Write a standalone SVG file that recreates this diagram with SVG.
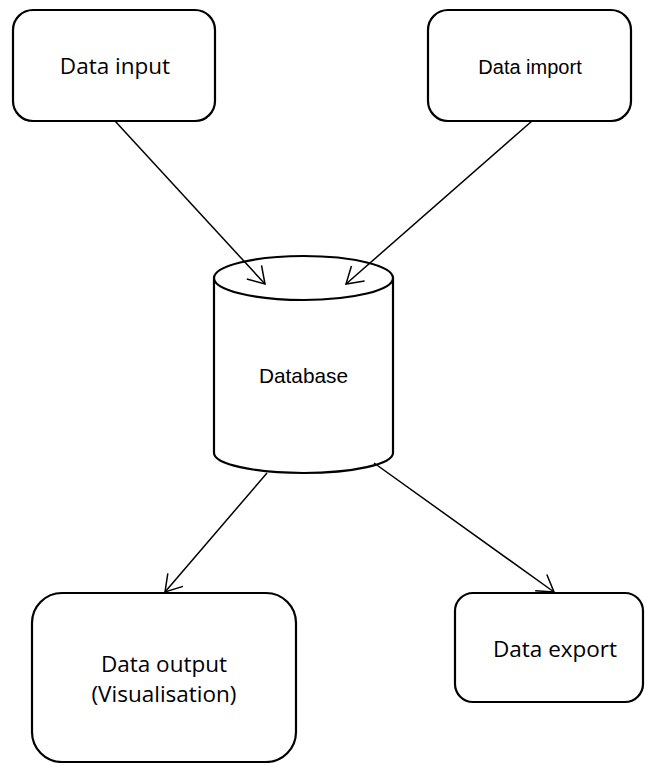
<svg xmlns="http://www.w3.org/2000/svg" width="645" height="763" viewBox="0 0 645 763">
<style>
.box{fill:#fff;stroke:#000;stroke-width:2.2}
.conn{stroke:#000;stroke-width:1.5;fill:none}
.cal{font-family:"Open Sans","Noto Sans",sans-serif;font-size:22.5px;fill:#000;text-anchor:middle}
.ari{font-family:"Liberation Sans",Arial,sans-serif;font-size:20px;fill:#000;text-anchor:middle}
</style>
<defs>
<marker id="arr" markerUnits="userSpaceOnUse" markerWidth="40" markerHeight="40" viewBox="-20 -20 40 40" refX="0" refY="0" orient="auto">
<path d="M-16,-10 L0,0 L-16,10" fill="none" stroke="#000" stroke-width="1.5"/>
</marker>
</defs>
<rect width="645" height="763" fill="#fff"/>
<g id="data-input">
<rect class="box" x="13" y="10" width="202" height="111" rx="20"/>
<text class="cal" x="115" y="74">Data input</text>
</g>
<g id="data-import">
<rect class="box" x="428" y="10" width="203" height="111" rx="20"/>
<text class="ari" x="530" y="74">Data import</text>
</g>
<g id="database">
<path class="box" d="M214,278 L214,453 A89.5,20 0 0 0 393,453 L393,278"/>
<ellipse class="box" cx="303.5" cy="278" rx="89.5" ry="22"/>
<text class="ari" x="303.5" y="383" style="font-size:20.8px">Database</text>
</g>
<g id="data-output">
<rect class="box" x="32" y="593" width="264" height="169" rx="30"/>
<text class="cal" x="164" y="672">Data output</text>
<text class="cal" x="164" y="702">(Visualisation)</text>
</g>
<g id="data-export">
<rect class="box" x="455" y="593" width="188" height="109" rx="18"/>
<text class="cal" x="555" y="657">Data export</text>
</g>
<g id="connectors">
<line class="conn" x1="115" y1="121" x2="265" y2="284" marker-end="url(#arr)"/>
<line class="conn" x1="532" y1="121" x2="346" y2="284" marker-end="url(#arr)"/>
<line class="conn" x1="267" y1="473" x2="165" y2="592" marker-end="url(#arr)"/>
<line class="conn" x1="374" y1="463" x2="554" y2="592" marker-end="url(#arr)"/>
</g>
</svg>
